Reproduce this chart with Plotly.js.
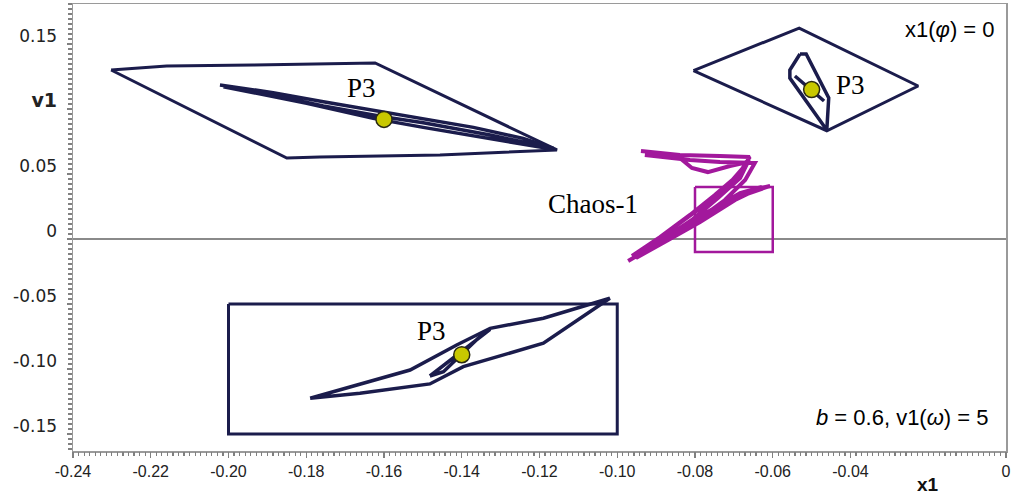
<!DOCTYPE html>
<html>
<head>
<meta charset="utf-8">
<script src="https://cdn.plot.ly/plotly-3.0.1.min.js"></script>
<style>html,body{margin:0;padding:0;background:#fff;}#chart{width:1014px;height:497px;}</style>
</head>
<body>
<div id="chart"></div>
<script>
// ---- Data (x1, v1) ----
// Upper-left P3 orbit: outer transient loop
const ulOuterX = [-0.2302, -0.2159, -0.1937, -0.1705, -0.1623, -0.1155, -0.1456, -0.1765, -0.1850, -0.2302];
const ulOuterY = [0.1300, 0.1331, 0.1338, 0.1352, 0.1354, 0.0685, 0.0646, 0.0631, 0.0623, 0.1300];
// Upper-left inner strands
const ulInnerX = [-0.2022, -0.1885, -0.1756, -0.1619, -0.1499, -0.1370, -0.1242, -0.1164,
                  -0.1327, -0.1499, -0.1602, -0.1756, -0.1928, -0.2013,
                  -0.1799, -0.1628, -0.1499, -0.1327, -0.1164];
const ulInnerY = [0.1185, 0.1126, 0.1056, 0.0985, 0.0928, 0.0859, 0.0774, 0.0697,
                  0.0800, 0.0895, 0.0941, 0.1023, 0.1133, 0.1172,
                  0.1044, 0.0928, 0.0859, 0.0774, 0.0690];
// Upper-right P3 orbit
const urOuterX = [-0.0804, -0.0532, -0.0226, -0.0461, -0.0804];
const urOuterY = [0.1295, 0.1623, 0.1177, 0.0833, 0.1295];
const urInnerX = [-0.0530, -0.0556, -0.0556, -0.0461, -0.0456, -0.0514, -0.0530, null, -0.0543, -0.0468];
const urInnerY = [0.1423, 0.1300, 0.1238, 0.0838, 0.1085, 0.1423, 0.1423, null, 0.1254, 0.1062];
// Lower P3 orbit: initial rectangle
const loRectX = [-0.20, -0.10, -0.10, -0.20, -0.20];
const loRectY = [-0.05, -0.05, -0.15, -0.15, -0.05];
const loInnerX = [-0.1790, -0.1533, -0.1413, -0.1327, -0.1190, -0.1019,
                  -0.1190, -0.1276, -0.1396, -0.1482, -0.1662, -0.1790, null,
                  -0.1482, -0.1327, -0.1345, -0.1447, -0.1482];
const loInnerY = [-0.1225, -0.1008, -0.0815, -0.0687, -0.0610, -0.0456,
                  -0.0802, -0.0879, -0.0982, -0.1115, -0.1187, -0.1225, null,
                  -0.1054, -0.0695, -0.0726, -0.1021, -0.1054];
// Chaos-1 attractor and its initial rectangle
const chRectX = [-0.08, -0.06, -0.06, -0.08, -0.08];
const chRectY = [0.04, 0.04, -0.01, -0.01, 0.04];
const chaosX = [-0.0939, -0.0839, -0.0736, -0.0659,
                -0.0689, -0.0749, -0.0813, -0.0890, -0.0962,
                -0.0877, -0.0787, -0.0697, -0.0607,
                -0.0671, -0.0736, -0.0813, -0.0903, -0.0972,
                -0.0890, -0.0800, -0.0723, -0.0671, -0.0646,
                -0.0736, -0.0813, -0.0890, -0.0929,
                -0.0839, -0.0808, -0.0767,
                -0.0710, -0.0664, -0.0684, -0.0741, -0.0808, -0.0869, -0.0942,
                -0.0859, -0.0767, -0.0684, -0.0628,
                -0.0697, -0.0787, -0.0869, -0.0952,
                -0.0864, -0.0787, -0.0715, -0.0659];
const chaosY = [0.0677, 0.0646, 0.0638, 0.0631,
                0.0492, 0.0338, 0.0185, 0.0015, -0.0131,
                -0.0008, 0.0162, 0.0315, 0.0408,
                0.0362, 0.0262, 0.0131, -0.0046, -0.0169,
                -0.0031, 0.0131, 0.0300, 0.0454, 0.0585,
                0.0592, 0.0608, 0.0638, 0.0646,
                0.0623, 0.0546, 0.0515,
                0.0562, 0.0592, 0.0469, 0.0315, 0.0146, 0.0023, -0.0100,
                0.0023, 0.0208, 0.0354, 0.0400,
                0.0300, 0.0131, -0.0008, -0.0146,
                0.0069, 0.0238, 0.0415, 0.0608];
// P3 fixed points
const p3X = [-0.16, -0.05, -0.14];
const p3Y = [0.092, 0.115, -0.089];

// Axis ticks
const xTickVals = [-0.24, -0.22, -0.20, -0.18, -0.16, -0.14, -0.12, -0.10, -0.08, -0.06, -0.04, 0];
const xTickText = ['-0.24', '-0.22', '-0.20', '-0.18', '-0.16', '-0.14', '-0.12', '-0.10', '-0.08', '-0.06', '-0.04', '0'];
const yTickVals = [-0.15, -0.10, -0.05, 0, 0.05, 0.10, 0.15];
const yTickText = ['-0.15', '-0.10', '-0.05', '0', '0.05', '<span style="font-size:19px;font-weight:bold">v1</span>', '0.15'];

const xRange = [-0.24, 0];
const yRange = [-0.1631, 0.1808];

const navy = '#1b1c4c';
const magenta = '#a2189c';
const lineOf = (x, y, color, w) => ({x, y, type: 'scatter', mode: 'lines', line: {color, width: w}, connectgaps: false, hoverinfo: 'skip', showlegend: false});

const traces = [
  {x: [null], y: [null], xaxis: 'x2', yaxis: 'y2', type: 'scatter', mode: 'lines', showlegend: false},
  lineOf(ulOuterX, ulOuterY, navy, 3),
  lineOf(ulInnerX, ulInnerY, navy, 3.5),
  lineOf(urOuterX, urOuterY, navy, 3),
  lineOf(urInnerX, urInnerY, navy, 3.5),
  lineOf(loRectX, loRectY, navy, 3),
  lineOf(loInnerX, loInnerY, navy, 3.5),
  lineOf(chRectX, chRectY, magenta, 2.5),
  lineOf(chaosX, chaosY, magenta, 4),
  {x: p3X, y: p3Y, type: 'scatter', mode: 'markers', showlegend: false,
   marker: {size: 16, color: '#c8c800', line: {color: '#2a2a10', width: 1.5}}}
];

const serif = {family: 'Liberation Serif, Times New Roman, serif', size: 27, color: '#000'};
const sans = {family: 'Liberation Sans, Arial, sans-serif', size: 22, color: '#000'};
const tickGrey = '#808080';

const layout = {
  width: 1014, height: 497,
  margin: {l: 73, r: 8, t: 4, b: 46},
  paper_bgcolor: '#fff', plot_bgcolor: '#fff',
  showlegend: false,
  xaxis: {
    range: xRange, showgrid: false, zeroline: false,
    showline: true, linecolor: '#9a9a9a', linewidth: 1.5, mirror: true,
    tickmode: 'array', tickvals: xTickVals, ticktext: xTickText,
    ticks: 'outside', ticklen: 5, tickcolor: tickGrey, tickwidth: 1.2,
    tickfont: {family: 'Liberation Sans, Arial, sans-serif', size: 16, color: '#222'}
  },
  yaxis: {
    range: yRange, showgrid: false,
    zeroline: true, zerolinecolor: '#8a8a8a', zerolinewidth: 1.5,
    showline: true, linecolor: '#9a9a9a', linewidth: 1.5, mirror: true,
    tickmode: 'array', tickvals: yTickVals, ticktext: yTickText,
    ticks: 'outside', ticklen: 5, tickcolor: tickGrey, tickwidth: 1.2,
    ticklabelstandoff: 6, ticklabelshift: -8,
    tickfont: {family: 'DejaVu Sans, sans-serif', size: 17, color: '#222'}
  },
  // minor tick overlays
  xaxis2: {
    overlaying: 'x', anchor: 'y2', side: 'bottom', range: xRange,
    tickmode: 'linear', tick0: -0.24, dtick: 0.02 / 14,
    ticks: 'outside', ticklen: 4, tickcolor: tickGrey, tickwidth: 1.2,
    showticklabels: false, showgrid: false, zeroline: false, showline: false
  },
  yaxis2: {
    overlaying: 'y', anchor: 'x2', side: 'left', range: yRange,
    tickmode: 'linear', tick0: 0, dtick: 0.05 / 13,
    ticks: 'outside', ticklen: 4, tickcolor: tickGrey, tickwidth: 1.2,
    showticklabels: false, showgrid: false, zeroline: false, showline: false
  },
  annotations: [
    {x: -0.1657, y: 0.1162, xref: 'x', yref: 'y', text: 'P3', showarrow: false, font: serif},
    {x: -0.0401, y: 0.1185, xref: 'x', yref: 'y', text: 'P3', showarrow: false, font: serif},
    {x: -0.1477, y: -0.0708, xref: 'x', yref: 'y', text: 'P3', showarrow: false, font: serif},
    {x: -0.1062, y: 0.0269, xref: 'x', yref: 'y', text: 'Chaos-1', showarrow: false, font: serif},
    {x: 0.990, y: 0.942, xref: 'paper', yref: 'paper', xanchor: 'right', yanchor: 'middle',
     text: 'x1(<i>φ</i>) = 0', showarrow: false, font: sans},
    {x: 0.983, y: 0.076, xref: 'paper', yref: 'paper', xanchor: 'right', yanchor: 'middle',
     text: '<i>b</i> = 0.6, v1(<i>ω</i>) = 5', showarrow: false, font: sans},
    {x: -0.02, y: -0.076, xref: 'x', yref: 'paper', yanchor: 'middle',
     text: '<b>x1</b>', showarrow: false, font: {family: 'Liberation Sans, Arial, sans-serif', size: 19, color: '#111'}}
  ]
};

Plotly.newPlot('chart', traces, layout, {staticPlot: true, displayModeBar: false});
</script>
</body>
</html>
